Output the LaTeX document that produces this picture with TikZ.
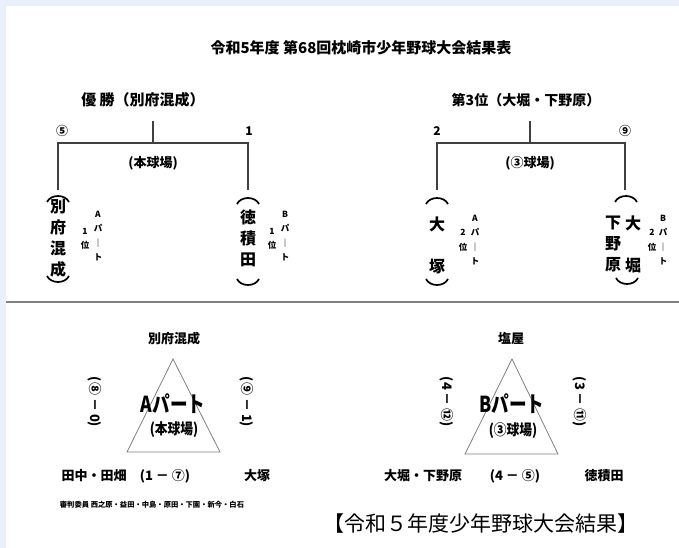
\documentclass[tikz,border=0pt]{standalone}
\usepackage{fontspec}
\usepackage{tikz}
\usetikzlibrary{positioning}
\newfontfamily\jp{Noto Sans CJK JP}
\definecolor{sfondo}{HTML}{E9EFFB}
\definecolor{linea}{HTML}{404040}

\begin{document}
\begin{tikzpicture}[x=1pt, y=-1pt, thin,
    testo/.style={inner sep=0pt, font=\jp\bfseries\fontsize{#1}{#1}\selectfont},
    nome/.style={inner sep=0pt, align=center, font=\jp\bfseries\fontsize{16}{21}\selectfont},
    piccolo/.style={inner sep=0pt, align=center, font=\jp\bfseries\fontsize{8.5}{14.5}\selectfont},
    punteggio/.style={inner sep=0pt, rotate=-90, font=\jp\bfseries\fontsize{13}{13}\selectfont},
    ramo/.style={draw=linea, line width=1.1pt},
    triangolo/.style={draw=gray, line width=0.8pt},
    arcsu/.pic={\draw[line width=1.7pt] (-11,5) .. controls (-7,-3) and (7,-3) .. (11,5);},
    arcgiu/.pic={\draw[line width=1.7pt] (-11,-5) .. controls (-7,3) and (7,3) .. (11,-5);}]
    % Sfondo e cornice
    \fill[sfondo] (0,0) rectangle (679,548);
    \fill[white] (6,6) rectangle (679,548);
    \useasboundingbox (0,0) rectangle (679,548);
    \draw[gray, line width=1.6pt] (6,302) -- (679,302);

    % Titolo e intestazioni
    \node[testo=15] (t) at (361,48) {令和5年度 第68回枕崎市少年野球大会結果表};
    \node[testo=15] (v) at (143,100) {優 勝（別府混成）};
    \node[testo=14] (p) at (526,100) {第3位（大堀・下野原）};

    % Punteggi della finale
    \node[testo=12] (na) at (62,131) {⑤};
    \node[testo=12] (nb) at (249,131) {1};
    \node[testo=12] (nc) at (437,131) {2};
    \node[testo=12] (nd) at (625,131) {⑨};

    % Tabellone sinistro
    \coordinate (ca) at (153,121);
    \coordinate (ma) at (153,143);
    \coordinate (sa) at (58,143);
    \coordinate (da) at (248,143);
    \coordinate (sa') at (58,190);
    \coordinate (da') at (248,190);
    \draw[ramo] (sa') -- (sa) -- (da) -- (da');
    \draw[ramo] (ca) -- (ma);
    \node[testo=13] (ba) at (153,163) {(本球場)};

    % Tabellone destro
    \coordinate (cb) at (530,121);
    \coordinate (mb) at (530,143);
    \coordinate (sb) at (437,143);
    \coordinate (db) at (625,143);
    \coordinate (sb') at (437,190);
    \coordinate (db') at (625,190);
    \draw[ramo] (sb') -- (sb) -- (db) -- (db');
    \draw[ramo] (cb) -- (mb);
    \node[testo=13] (bb) at (530,163) {(③球場)};

    % Squadre finale
    \pic at (58,197) {arcsu};
    \node[nome] (a1) at (58,238) {別\\府\\混\\成};
    \pic at (58,281) {arcgiu};
    \node[piccolo] at (98,236) {A\\パ\\｜\\ト};
    \node[piccolo] at (85,239) {1\\位};

    \pic at (248,199) {arcsu};
    \node[nome] (b1) at (248,238) {徳\\積\\田};
    \pic at (248,284) {arcgiu};
    \node[piccolo] at (285,236) {B\\パ\\｜\\ト};
    \node[piccolo] at (272,239) {1\\位};

    % Squadre terzo posto
    \pic at (437,199) {arcsu};
    \node[nome] (a2) at (437,245) {大\\ \\塚};
    \pic at (437,284) {arcgiu};
    \node[piccolo] at (475,240) {A\\パ\\｜\\ト};
    \node[piccolo] at (463,240) {2\\位};

    \pic at (626,197) {arcsu};
    \node[nome] (b2) at (633,244) {大\\ \\堀};
    \node[nome] at (613,244) {下\\野\\原};
    \pic at (627,283) {arcgiu};
    \node[piccolo] at (663,240) {B\\パ\\｜\\ト};
    \node[piccolo] at (652,240) {2\\位};

    % Parte A
    \node[testo=13] (ta) at (174,339) {別府混成};
    \coordinate (a) at (173,359);
    \coordinate (b) at (127,452);
    \coordinate (c) at (220,452);
    \draw[triangolo] (a) -- (b) -- (c) -- cycle;
    \node[testo=22, xscale=.8] (pa) at (173,404) {Aパート};
    \node[testo=15, xscale=.85] (qa) at (174,430) {(本球場)};
    \node[punteggio] at (95,402) {(⑧ － 0)};
    \node[punteggio] at (247,402) {(⑨ － 1)};
    \node[testo=13] (x1) at (94,476) {田中・田畑};
    \node[testo=13] (x2) at (165,476) {(1 － ⑦)};
    \node[testo=13] (x3) at (257,476) {大塚};
    \node[inner sep=0pt, font=\jp\bfseries\fontsize{7.3}{7.3}\selectfont] (g) at (152,505)
      {審判委員 西之原・益田・中島・原田・下園・新今・白石};

    % Parte B
    \node[testo=13] (tb) at (511,339) {塩屋};
    \coordinate (d) at (512,359);
    \coordinate (e) at (465,454);
    \coordinate (f) at (558,454);
    \draw[triangolo] (d) -- (e) -- (f) -- cycle;
    \node[testo=22, xscale=.8] (pb) at (512,404) {Bパート};
    \node[testo=15, xscale=.85] (qb) at (513,431) {(③球場)};
    \node[punteggio] at (447,402) {(4 － ⑫)};
    \node[punteggio] at (580,402) {(3 － ⑪)};
    \node[testo=13] (y1) at (423,476) {大堀・下野原};
    \node[testo=13] (y2) at (515,476) {(4 － ⑤)};
    \node[testo=13] (y3) at (604,476) {徳積田};

    % Didascalia
    \node[inner sep=0pt, font=\jp\fontsize{21}{21}\selectfont] (k) at (481,524)
      {【令和５年度少年野球大会結果】};
\end{tikzpicture}
\end{document}
